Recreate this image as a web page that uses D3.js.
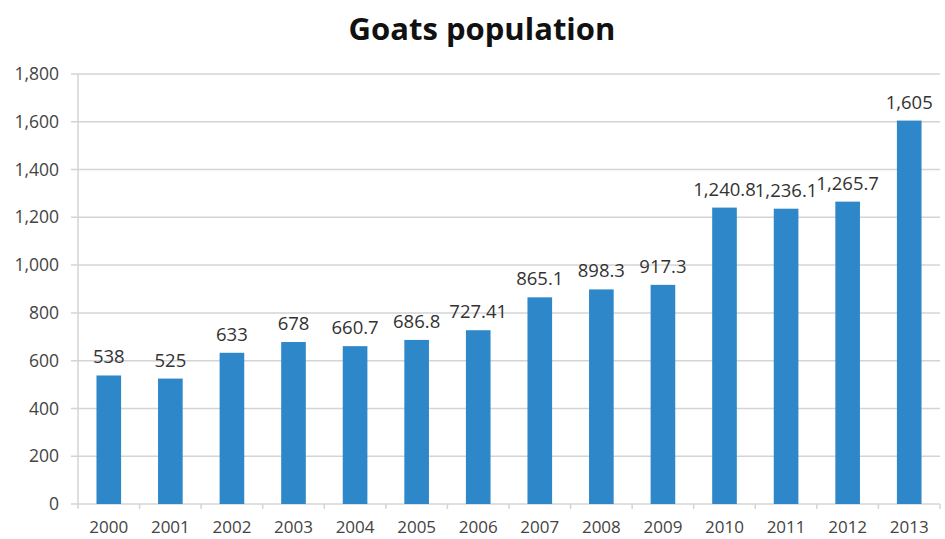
<!DOCTYPE html>
<html><head><meta charset="utf-8">
<script src="https://cdn.jsdelivr.net/npm/d3@7"></script>
<style>body{margin:0;background:#fff}</style>
</head><body>
<svg id="c" width="945" height="539"></svg>
<script>
const years = ["2000","2001","2002","2003","2004","2005","2006","2007","2008","2009","2010","2011","2012","2013"];
const values = [538, 525, 633, 678, 660.7, 686.8, 727.41, 865.1, 898.3, 917.3, 1240.8, 1236.1, 1265.7, 1605];
const valueLabels = ["538","525","633","678","660.7","686.8","727.41","865.1","898.3","917.3","1,240.8","1,236.1","1,265.7","1,605"];
const yTicks = [0,200,400,600,800,1000,1200,1400,1600,1800];
const title = "Goats population";

const svg = d3.select("#c");
const m = {l:78, r:5, t:74, b:35};
const W = 945, H = 539;
const x = d3.scaleBand().domain(years).range([m.l, W - m.r]).paddingInner(0.6).paddingOuter(0.3);
const xb = d3.scaleBand().domain(years).range([m.l, W - m.r]);
const y = d3.scaleLinear().domain([0,1800]).range([H - m.b, m.t]);
const font = "'Open Sans', 'Liberation Sans', sans-serif";

svg.append("text").attr("x", 482).attr("y", 40).attr("text-anchor","middle")
  .attr("font-family", font).attr("font-weight","bold").attr("font-size", 31).attr("fill","#111").text(title);

// grid
svg.append("g").selectAll("line").data(yTicks).join("line")
  .attr("x1", m.l - 7).attr("x2", W - m.r).attr("y1", d=>y(d)).attr("y2", d=>y(d))
  .attr("stroke","#d4d4d4").attr("stroke-width",1.5);
// y axis line
svg.append("line").attr("x1", m.l).attr("x2", m.l).attr("y1", y(1800)).attr("y2", y(0))
  .attr("stroke","#d4d4d4").attr("stroke-width",1.5);
// y labels
svg.append("g").selectAll("text").data(yTicks).join("text")
  .attr("x", 59).attr("y", d=>y(d)).attr("dy","0.35em").attr("text-anchor","end")
  .attr("font-family", font).attr("font-size", 17.5).attr("fill","#444")
  .text(d=>d3.format(",")(d));
// x tick marks
svg.append("g").selectAll("line").data(years.concat(["end"])).join("line")
  .attr("x1", (d,i)=> m.l + i*xb.bandwidth()).attr("x2", (d,i)=> m.l + i*xb.bandwidth())
  .attr("y1", y(0)).attr("y2", y(0)+5).attr("stroke","#d4d4d4").attr("stroke-width",1.5);

// bars
svg.append("g").selectAll("rect").data(values).join("rect")
  .attr("x", (d,i)=>x(years[i])).attr("width", x.bandwidth())
  .attr("y", d=>y(d)).attr("height", d=>y(0)-y(d)).attr("fill","#2E87C8");
// value labels
svg.append("g").selectAll("text").data(values).join("text")
  .attr("x", (d,i)=>x(years[i]) + x.bandwidth()/2).attr("y", d=>y(d)-12)
  .attr("text-anchor","middle").attr("font-family", font).attr("font-size", 18.5).attr("fill","#333")
  .text((d,i)=>valueLabels[i]);
// x labels
svg.append("g").selectAll("text").data(years).join("text")
  .attr("x", d=>x(d)+x.bandwidth()/2).attr("y", 533)
  .attr("text-anchor","middle").attr("font-family", font).attr("font-size", 17).attr("fill","#444")
  .text(d=>d);
</script>
</body></html>
